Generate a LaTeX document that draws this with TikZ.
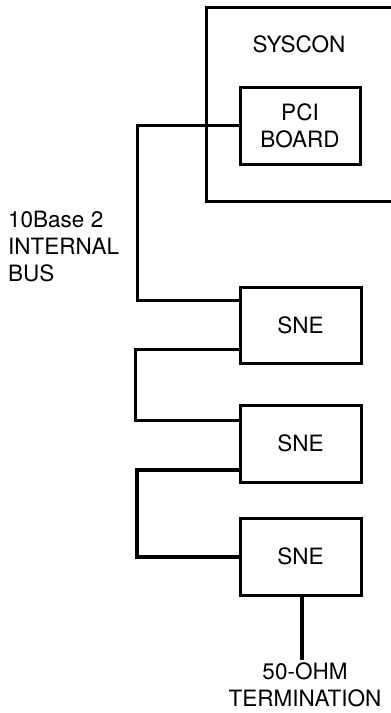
\documentclass[tikz,border=0pt]{standalone}
\usepackage{fontspec}
\setmainfont{TeX Gyre Heros}
\begin{document}
\begin{tikzpicture}[x=1pt,y=-1pt,
  box/.style={draw,line width=3pt,rectangle,inner sep=0pt,minimum width=121pt,minimum height=77pt,align=center,font=\fontsize{22.5}{27}\selectfont},
  wire/.style={line width=3pt},
  heavywire/.style={line width=4.5pt},
  lbl/.style={inner sep=0pt,font=\fontsize{22.5}{27}\selectfont}]
\useasboundingbox (0,0) rectangle (391,713);
% SYSCON enclosure (open to the right edge)
\draw[line width=3pt] (392,7) -- (206,7) -- (206,201) -- (392,201);
\node[lbl] (syscon) at (299,44) {SYSCON};
\node[box,minimum width=120pt] (pci) at (300,125.5) {PCI\\BOARD};
\node[box,minimum height=76pt] (sne1) at (300.5,325) {SNE};
\node[box] (sne2) at (300.5,443.5) {SNE};
\node[box] (sne3) at (300.5,556.5) {SNE};
\node[lbl,anchor=north west,align=left] (bus) at (8,211) {10Base 2\\INTERNAL\\BUS};
\coordinate (term) at (302,660);
\node[lbl,anchor=north,align=center] (termtxt) at (305,662) {50-OHM\\TERMINATION};
% connectors
\draw[wire] (pci.west) -- (137,125.5) -- (137,300) -- (sne1.west |- 0,300);
\draw[wire] (sne1.west |- 0,349) -- (135,349) -- (135,420) -- (sne2.west |- 0,420);
\draw[heavywire] (sne2.west |- 0,470) -- (137,470) -- (137,557) -- (sne3.west |- 0,557);
\draw[heavywire] (sne3.south -| term) -- (term);
\end{tikzpicture}
\end{document}
